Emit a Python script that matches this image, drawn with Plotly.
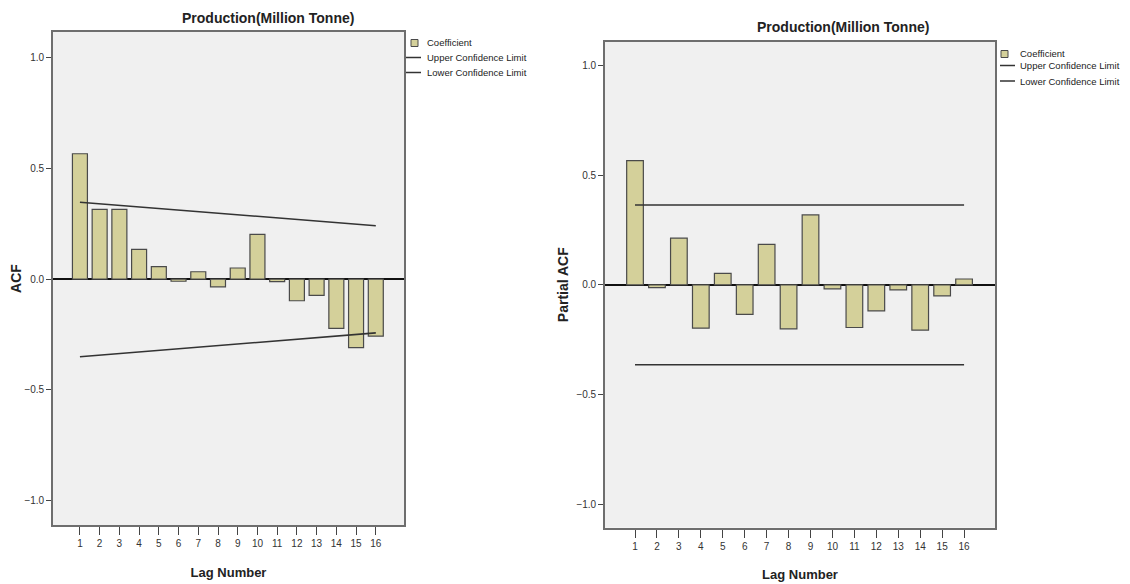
import plotly.graph_objects as go

# ---- data ----
lags = list(range(1, 17))
acf = [0.566, 0.315, 0.315, 0.134, 0.056, -0.010, 0.033, -0.035,
       0.050, 0.202, -0.012, -0.098, -0.074, -0.223, -0.310, -0.258]
acf_cl_lags = [1, 16]
acf_ucl = [0.347, 0.241]
acf_lcl = [-0.351, -0.243]

pacf = [0.566, -0.012, 0.213, -0.197, 0.053, -0.134, 0.185, -0.200,
        0.319, -0.018, -0.194, -0.118, -0.023, -0.206, -0.050, 0.027]
pacf_cl_lags = [1, 16]
pacf_ucl = [0.364, 0.364]
pacf_lcl = [-0.364, -0.364]

title_text = "Production(Million Tonne)"
x_title = "Lag Number"
y_titles = ["ACF", "Partial ACF"]
y_ticks = [-1.0, -0.5, 0.0, 0.5, 1.0]
legend_names = ["Coefficient", "Upper Confidence Limit", "Lower Confidence Limit"]

# ---- style ----
W, H = 1130, 584
OFF = 8  # page body margin offset
FONT = "Liberation Sans, Arial, sans-serif"
BAR_FILL = "#d4d09a"
BAR_EDGE = "#4a4a4a"
LINE_COL = "#333333"
FRAME = "#6e6e6e"
BG = "#f0f0f0"
TXT = "#222222"

def px(x):
    return (x - OFF) / W

def py(y):
    return 1 - (y - OFF) / H

fig = go.Figure()

def add_panel(vals, cl_x, ucl, lcl, xa, ya):
    fig.add_trace(go.Bar(x=lags, y=vals, width=0.76, name=legend_names[0],
                         marker=dict(color=BAR_FILL, line=dict(color=BAR_EDGE, width=1.2)),
                         xaxis=xa, yaxis=ya, showlegend=False))
    fig.add_trace(go.Scatter(x=cl_x, y=ucl, mode="lines", name=legend_names[1],
                             line=dict(color=LINE_COL, width=1.6),
                             xaxis=xa, yaxis=ya, showlegend=False))
    fig.add_trace(go.Scatter(x=cl_x, y=lcl, mode="lines", name=legend_names[2],
                             line=dict(color=LINE_COL, width=1.6),
                             xaxis=xa, yaxis=ya, showlegend=False))

add_panel(acf, acf_cl_lags, acf_ucl, acf_lcl, "x", "y")
add_panel(pacf, pacf_cl_lags, pacf_ucl, pacf_lcl, "x2", "y2")

def xaxis_style(standoff):
    return dict(tickvals=lags, ticks="outside", ticklen=8, tickwidth=1.3, tickcolor="#444",
                showline=True, mirror=True, linecolor=FRAME, linewidth=1.6,
                showgrid=False, zeroline=False, automargin=False,
                tickfont=dict(family=FONT, size=10, color="#333"),
                title=dict(text="<b>" + x_title + "</b>", font=dict(family=FONT, size=13, color=TXT),
                           standoff=standoff))

ycommon = dict(tickvals=y_ticks, tickformat=".1f", ticks="outside", ticklen=5, tickwidth=1.3,
               tickcolor="#444", showline=True, mirror=True, linecolor=FRAME, linewidth=1.6,
               showgrid=False, zeroline=True, zerolinecolor="#111", zerolinewidth=1.6,
               automargin=False,
               tickfont=dict(family=FONT, size=10, color="#333"))

# manual legends (decoration)
shapes = []
annotations = []

def legend_block(sq_x0, sq_x1, sq_y0, sq_y1, line_x0, line_x1, line_ys, text_x, text_ys):
    shapes.append(dict(type="rect", xref="paper", yref="paper",
                       x0=px(sq_x0), x1=px(sq_x1), y0=py(sq_y1), y1=py(sq_y0),
                       fillcolor=BAR_FILL, line=dict(color=BAR_EDGE, width=1)))
    for ly in line_ys:
        shapes.append(dict(type="line", xref="paper", yref="paper",
                           x0=px(line_x0), x1=px(line_x1), y0=py(ly), y1=py(ly),
                           line=dict(color=LINE_COL, width=1.5)))
    for name, ty in zip(legend_names, text_ys):
        annotations.append(dict(text=name, x=px(text_x), y=py(ty), xref="paper", yref="paper",
                                xanchor="left", yanchor="middle", showarrow=False,
                                font=dict(family=FONT, size=9.5, color=TXT)))

legend_block(411, 418, 39.5, 46.5, 406, 421, [57.5, 72.5], 425, [43, 57.5, 72.5])
legend_block(1001, 1008, 50.5, 57.5, 1000, 1015, [65.5, 81], 1018, [54, 66, 81])

for cx, cy in [(268, 18), (843, 27)]:
    annotations.append(dict(text="<b>" + title_text + "</b>", x=px(cx), y=py(cy),
                            xref="paper", yref="paper", xanchor="center", yanchor="middle",
                            showarrow=False, font=dict(family=FONT, size=14, color=TXT)))

fig.update_layout(
    width=W, height=H,
    margin=dict(l=0, r=0, t=0, b=0),
    paper_bgcolor="white", plot_bgcolor=BG,
    showlegend=False,
    xaxis=dict(domain=[px(53), px(404)], range=[-0.365, 17.43], anchor="y", **xaxis_style(20)),
    yaxis=dict(domain=[py(525), py(32)], range=[-1.111, 1.116], anchor="x",
               title=dict(text="<b>" + y_titles[0] + "</b>", font=dict(family=FONT, size=14, color=TXT),
                          standoff=7), **ycommon),
    xaxis2=dict(domain=[px(605), px(995)], range=[-0.368, 17.41], anchor="y2", **xaxis_style(19)),
    yaxis2=dict(domain=[py(527.7), py(41.7)], range=[-1.106, 1.108], anchor="x2",
                title=dict(text="<b>" + y_titles[1] + "</b>", font=dict(family=FONT, size=14, color=TXT),
                           standoff=5), **ycommon),
    shapes=shapes,
    annotations=annotations,
)

fig.write_html("out.html")
